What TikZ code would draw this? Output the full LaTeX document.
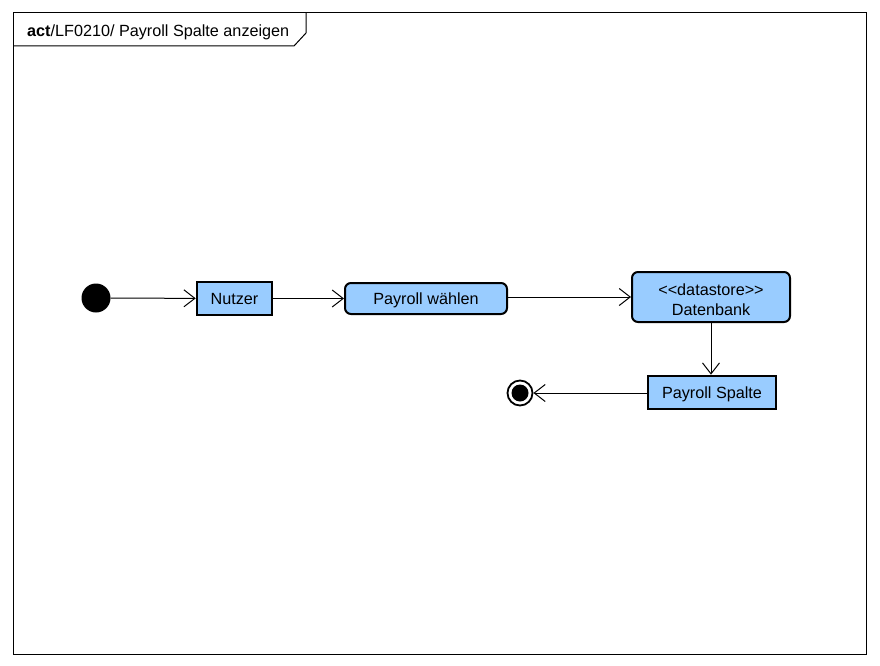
\documentclass[tikz,border=0pt]{standalone}
\usepackage{fontspec}
\setmainfont{Liberation Sans}
\usetikzlibrary{arrows.meta}
\definecolor{nodeblue}{HTML}{99CCFF}
\begin{document}
\begin{tikzpicture}[x=1pt,y=-1pt,
  every node/.style={font=\fontsize{16.2}{19}\selectfont, inner sep=0pt},
  oneline/.style={text height=11.6pt, text depth=0pt},
  objbox/.style={draw, fill=nodeblue, line width=2.6pt, oneline},
  actbox/.style={draw, fill=nodeblue, line width=2pt, rounded corners=6pt},
  flow/.style={line width=1pt, -{Straight Barb[length=11pt,width=17pt,line width=1pt]}}]
\useasboundingbox (0,0) rectangle (880,666);
% frame
\draw[line width=1pt] (13,13) rectangle (866,654);
\draw[line width=1pt] (13,46) -- (294,46) -- (306,33) -- (306,13);
\node[anchor=base west] (title) at (27,36.8) {\textbf{act}/LF0210/ Payroll Spalte anzeigen};
% nodes
\node[circle, fill=black, minimum size=29pt] (init) at (96,298) {};
\node[objbox, minimum width=75pt, minimum height=33pt] (nutzer) at (234.5,298.5) {Nutzer};
\node[actbox, oneline, minimum width=162pt, minimum height=31pt] (waehlen) at (426,298.5) {Payroll wählen};
\node[actbox, minimum width=158pt, minimum height=50pt,
  label={[align=center, yshift=-2.5pt]center:{<}{<}datastore{>}{>}\\[1pt]Datenbank}] (db) at (711,297) {};
\node[objbox, minimum width=128pt, minimum height=33pt] (spalte) at (712,392.5) {Payroll Spalte};
\node[circle, draw, line width=1.8pt, fill=white, minimum size=25pt] (final) at (520,393) {};
\node[circle, fill=black, minimum size=17pt] (finalin) at (final.center) {};
% connectors
\draw[flow] (init) -- (nutzer);
\draw[flow] (nutzer) -- (waehlen);
\draw[flow] (waehlen.east |- 0,297) -- (db.west |- 0,297);
\draw[flow] (db.south -| 711,0) -- (spalte.north -| 711,0);
\draw[flow] (spalte.west |- 0,393) -- (final);
\end{tikzpicture}
\end{document}
